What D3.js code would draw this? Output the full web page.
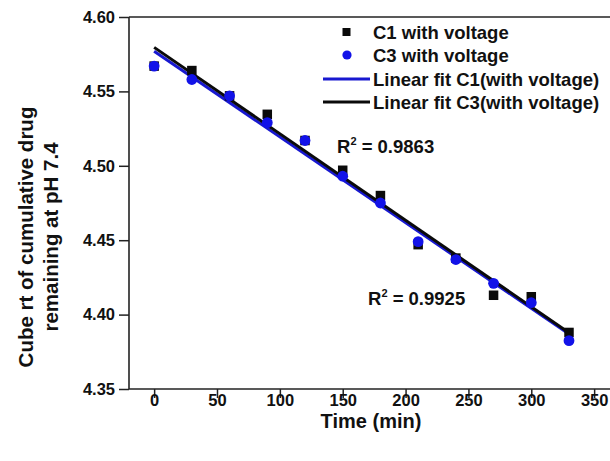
<!DOCTYPE html>
<html>
<head>
<meta charset="utf-8">
<script src="https://cdn.jsdelivr.net/npm/d3@7"></script>
<style>
  html, body { margin: 0; padding: 0; background: #fff; }
  svg { display: block; }
  text { font-family: "Liberation Sans", Arial, Helvetica, sans-serif; font-weight: bold; fill: #111; }
</style>
</head>
<body>
<svg id="chart" width="610" height="461"></svg>
<script>
// Sampling times (min)
const times = [0, 30, 60, 90, 120, 150, 180, 210, 240, 270, 300, 330];
// Cube root of cumulative drug remaining, pH 7.4
const c1Values = [4.567, 4.564, 4.547, 4.5346, 4.517, 4.497, 4.480, 4.447, 4.438, 4.413, 4.412, 4.388];
const c3Values = [4.567, 4.558, 4.547, 4.529, 4.517, 4.493, 4.475, 4.449, 4.437, 4.421, 4.408, 4.3825];
const xTicks = [0, 50, 100, 150, 200, 250, 300, 350];
const yTicks = [4.35, 4.40, 4.45, 4.50, 4.55, 4.60];
const legendLabels = ["C1 with voltage", "C3 with voltage", "Linear fit C1(with voltage)", "Linear fit C3(with voltage)"];
const r2Labels = ["0.9863", "0.9925"];

const BLUE = "#1212e8";
const BLUE_LINE = "#1818d0";
const BLACK = "#0a0a0a";

const svg = d3.select("#chart");
const plotLeft = 129, plotRight = 613, plotTop = 17, plotBottom = 389;

const x = d3.scaleLinear().domain([-20, 365]).range([plotLeft, plotRight]);
const y = d3.scaleLinear().domain([4.35, 4.60]).range([plotBottom, plotTop]);

// least-squares straight line through a series
function fit(xs, ys) {
  const mx = d3.mean(xs), my = d3.mean(ys);
  let sxy = 0, sxx = 0;
  xs.forEach((v, i) => { sxy += (v - mx) * (ys[i] - my); sxx += (v - mx) * (v - mx); });
  const slope = sxy / sxx;
  return { slope, intercept: my - slope * mx };
}

// axes
const xAxis = d3.axisBottom(x).tickValues(xTicks).tickSize(9).tickFormat(d3.format("d"));
const yAxis = d3.axisLeft(y).tickValues(yTicks).tickSize(10).tickPadding(4).tickFormat(d3.format(".2f"));

const gx = svg.append("g").attr("transform", `translate(0,${plotBottom})`).call(xAxis);
const gy = svg.append("g").attr("transform", `translate(${plotLeft},0)`).call(yAxis);
[gx, gy].forEach(g => {
  g.select(".domain").attr("stroke", "#222").attr("stroke-width", 1.6);
  g.selectAll(".tick line").attr("stroke", "#222").attr("stroke-width", 1.5);
  g.selectAll(".tick text").style("font-size", "16.5px").attr("fill", "#111")
    .style("font-family", "'Liberation Sans', Arial, sans-serif").style("font-weight", "bold");
});
gx.selectAll(".tick text").attr("y", 5);
gx.select(".domain").attr("d", `M${plotLeft},0H${plotRight}`);
gy.select(".domain").attr("d", `M0,${plotBottom}V${plotTop}`);

// top frame
svg.append("line").attr("x1", plotLeft).attr("x2", plotRight).attr("y1", plotTop).attr("y2", plotTop)
  .attr("stroke", "#222").attr("stroke-width", 1.6);

// axis titles
svg.append("text").attr("x", 371).attr("y", 428).attr("text-anchor", "middle")
  .style("font-size", "20px").text("Time (min)");
const yt = svg.append("text").attr("transform", "translate(33,237) rotate(-90)")
  .attr("text-anchor", "middle").style("font-size", "20.5px");
yt.append("tspan").attr("x", 0).attr("dy", 0).text("Cube rt of cumulative drug");
yt.append("tspan").attr("x", 0).attr("dy", 25).text("remaining at pH 7.4");

// fitted lines
const fitC1 = fit(times, c1Values);
const fitC3 = fit(times, c3Values);
const span = d3.extent(times);
const lineGen = f => d3.line()
  .x(t => x(t)).y(t => y(f.intercept + f.slope * t))(span);

svg.append("path").attr("d", lineGen(fitC3)).attr("stroke", BLUE_LINE).attr("stroke-width", 3).attr("fill", "none");
svg.append("path").attr("d", lineGen(fitC1)).attr("stroke", BLACK).attr("stroke-width", 3).attr("fill", "none");

// markers: squares first, circles over them
const sq = 9.5;
svg.append("g").selectAll("rect").data(times).join("rect")
  .attr("x", (t) => x(t) - sq / 2).attr("y", (t, i) => y(c1Values[i]) - sq / 2)
  .attr("width", sq).attr("height", sq).attr("fill", BLACK);
svg.append("g").selectAll("circle").data(times).join("circle")
  .attr("cx", t => x(t)).attr("cy", (t, i) => y(c3Values[i]))
  .attr("r", 5.4).attr("fill", BLUE);

// legend
const lg = svg.append("g");
const rowY = [32, 55, 79, 102];
lg.append("rect").attr("x", 342.5).attr("y", rowY[0] - 4).attr("width", 8).attr("height", 8).attr("fill", BLACK);
lg.append("circle").attr("cx", 347).attr("cy", rowY[1]).attr("r", 4.6).attr("fill", BLUE);
lg.append("line").attr("x1", 323).attr("x2", 370).attr("y1", rowY[2]).attr("y2", rowY[2])
  .attr("stroke", BLUE_LINE).attr("stroke-width", 3);
lg.append("line").attr("x1", 323).attr("x2", 370).attr("y1", rowY[3]).attr("y2", rowY[3])
  .attr("stroke", BLACK).attr("stroke-width", 3);
lg.selectAll("text").data(legendLabels).join("text")
  .attr("x", 373).attr("y", (d, i) => rowY[i] + 6.5)
  .style("font-size", "18.5px").text(d => d);

// R² annotations
const r2Pos = [[337, 153], [368, 305]];
r2Labels.forEach((v, i) => {
  const t = svg.append("text").attr("x", r2Pos[i][0]).attr("y", r2Pos[i][1]).style("font-size", "18.5px");
  t.append("tspan").text("R");
  t.append("tspan").attr("dy", -8).style("font-size", "11px").text("2");
  t.append("tspan").attr("dy", 8).text(" = " + v);
});
</script>
</body>
</html>
